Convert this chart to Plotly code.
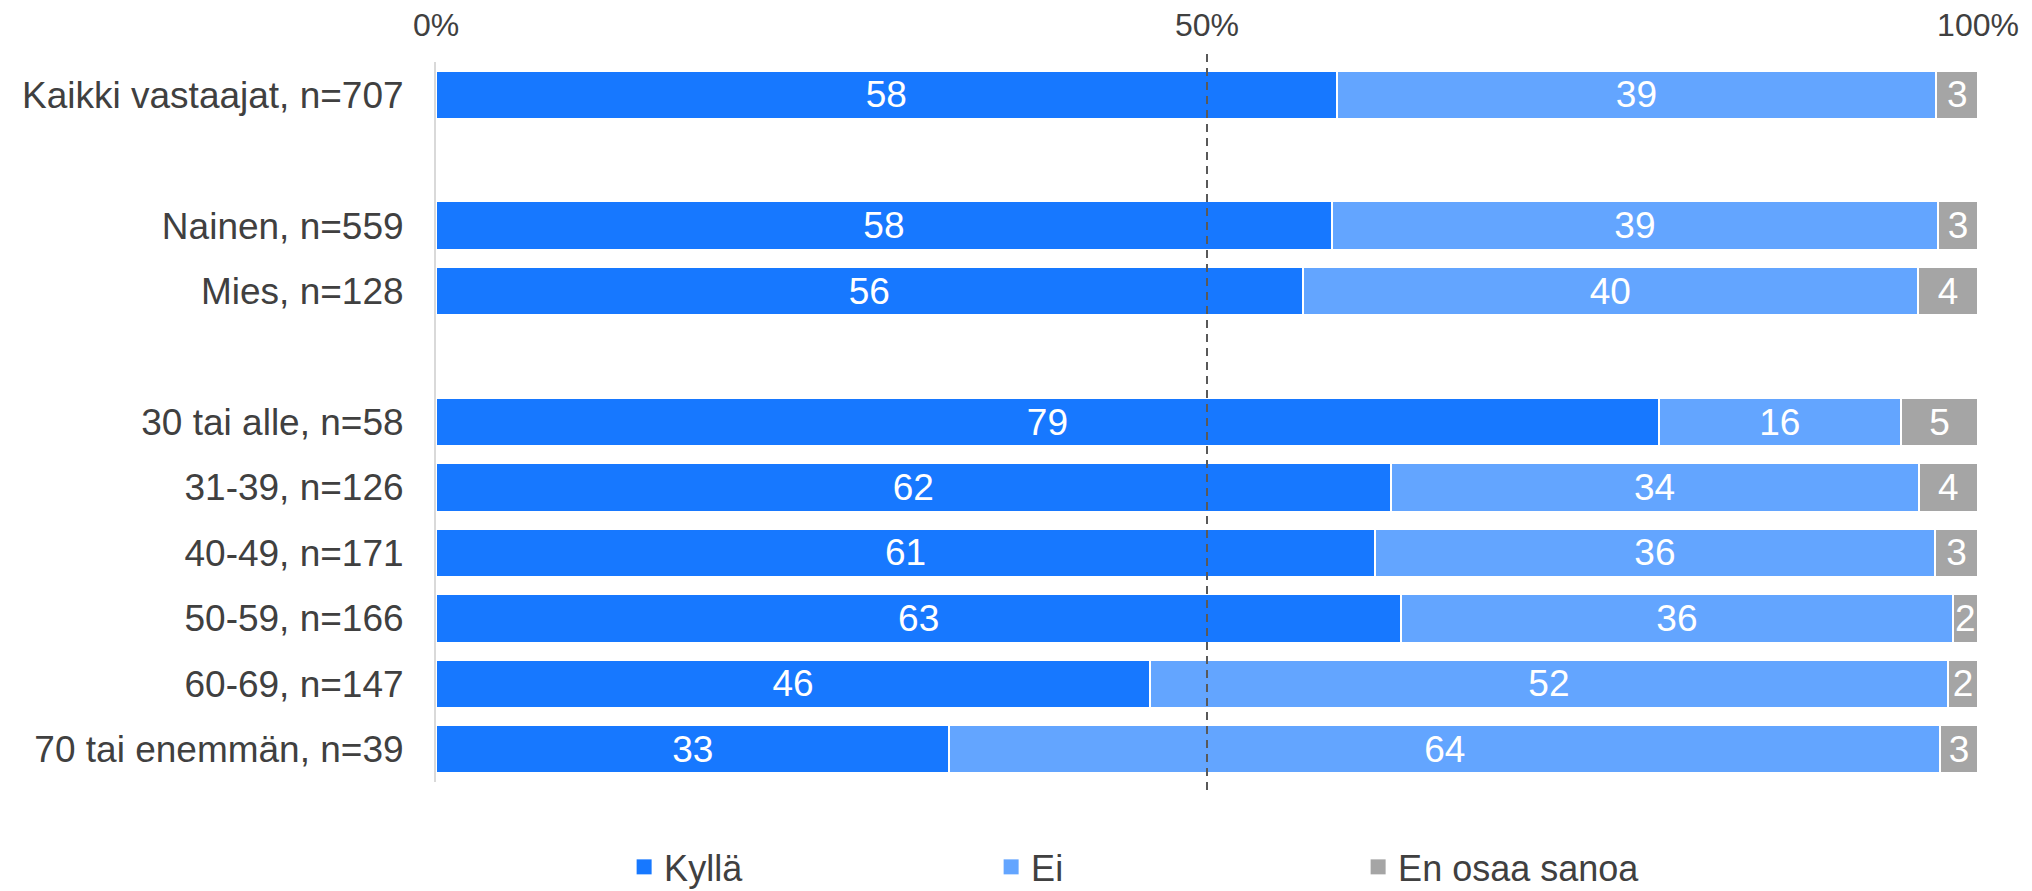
import plotly.graph_objects as go

# Rows (blank strings are spacer rows between groups)
groups = ["Kaikki vastaajat, n=707", " ",
          "Nainen, n=559", "Mies, n=128", "  ",
          "30 tai alle, n=58", "31-39, n=126", "40-49, n=171",
          "50-59, n=166", "60-69, n=147", "70 tai enemmän, n=39"]

# Segment widths (%)
kylla = [58.4, None, 58.1, 56.2, None, 79.3, 61.9, 60.9, 62.6, 46.3, 33.3]
ei = [38.9, None, 39.3, 39.9, None, 15.7, 34.25, 36.3, 35.75, 51.75, 64.25]
eos = [2.7, None, 2.6, 3.9, None, 5.0, 3.85, 2.8, 1.65, 1.95, 2.45]

# Labels printed on the bars
kylla_lbl = ["58", "", "58", "56", "", "79", "62", "61", "63", "46", "33"]
ei_lbl = ["39", "", "39", "40", "", "16", "34", "36", "36", "52", "64"]
eos_lbl = ["3", "", "3", "4", "", "5", "4", "3", "2", "2", "3"]

series = [
    ("Kyllä", kylla, kylla_lbl, "#1778FF"),
    ("Ei", ei, ei_lbl, "#63A5FF"),
    ("En osaa sanoa", eos, eos_lbl, "#A5A5A5"),
]

FONT = "Liberation Sans, Arial, sans-serif"

fig = go.Figure()
for name, vals, lbls, col in series:
    fig.add_trace(go.Bar(
        y=groups, x=vals, name=name, orientation="h", showlegend=False,
        legendgroup=name,
        marker=dict(color=col, line=dict(color="white", width=2)),
        text=lbls, textposition="inside", insidetextanchor="middle",
        constraintext="none",
        textfont=dict(color="white", size=37, family=FONT),
        hoverinfo="skip",
    ))
    # legend entry with a bigger square key
    fig.add_trace(go.Scatter(
        x=[None], y=[None], mode="markers", name=name, legendgroup=name,
        marker=dict(symbol="square", size=15, color=col),
    ))

# dashed 50% reference line
fig.add_shape(type="line", xref="x", yref="paper", x0=50, x1=50, y0=-0.011, y1=1.0125,
              line=dict(color="#595959", width=2, dash="8px,6px"))

fig.update_layout(
    barmode="stack",
    bargap=0.26,
    width=2032, height=891,
    margin=dict(l=436, r=54, t=62, b=109, autoexpand=False),
    plot_bgcolor="white", paper_bgcolor="white",
    font=dict(family=FONT, color="#404040", size=37),
    uniformtext=dict(minsize=37, mode="show"),
    showlegend=True,
    legend=dict(orientation="h", x=0.122, xanchor="left", y=-0.118, yanchor="middle",
                font=dict(size=36, color="#404040"), traceorder="normal",
                itemsizing="trace",
                entrywidth=322, entrywidthmode="pixels"),
    xaxis=dict(range=[0, 100], side="top", tickvals=[0, 50, 100],
               ticktext=["0%", "50%", "100%"], showgrid=False, zeroline=False,
               showline=False, tickfont=dict(size=32, color="#404040"),
               ticklabelstandoff=19, fixedrange=True),
    yaxis=dict(categoryorder="array", categoryarray=groups, autorange="reversed",
               showline=True, linecolor="#D9D9D9", linewidth=2, showgrid=False,
               zeroline=False, ticks="", tickfont=dict(size=37, color="#404040"),
               ticklabelstandoff=23, fixedrange=True),
)

fig.write_html("out.html", config={"displayModeBar": False},
               post_script="document.body.style.margin='0';")
